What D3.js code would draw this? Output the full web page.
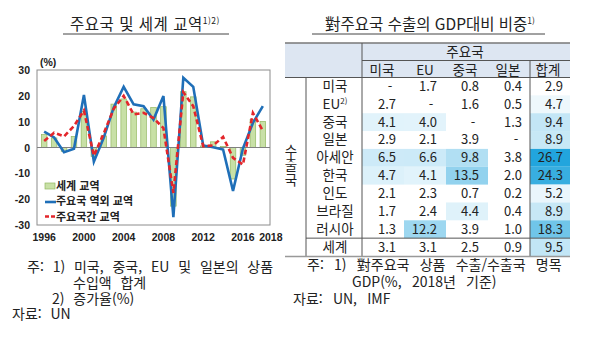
<!DOCTYPE html>
<html lang="ko">
  <head>
    <meta charset="UTF-8" />
    <script src="https://d3js.org/d3.v7.min.js"></script>
    <style>
      body { margin: 0; background: #fff; }
      text { font-family: "Noto Sans CJK KR", "Noto Sans", sans-serif; }
      .ax { font-family: "Liberation Sans", Arial, sans-serif; font-weight: bold; font-size: 10.5px; fill: #222; }
    </style>
  </head>
  <body>
    <div id="chart"></div>
    <script>
      // ---- left chart data ----
      var years = [1996, 1997, 1998, 1999, 2000, 2001, 2002, 2003, 2004, 2005, 2006, 2007,
        2008, 2009, 2010, 2011, 2012, 2013, 2014, 2015, 2016, 2017, 2018];
      var worldTrade = [5.0, 3.7, -1.5, 4.3, 14.0, -3.5, 4.5, 16.8, 18.8, 13.7, 15.0, 15.5,
        15.8, -22.7, 21.6, 19.6, 0.6, 2.2, 0.4, -12.2, -3.0, 10.8, 10.1];
      var extraTrade = [6.1, 3.9, -1.8, -0.5, 20.3, -5.5, 3.9, 15.5, 23.5, 16.7, 16.0, 10.8,
        19.9, -27.0, 27.0, 23.5, 0.8, 0.1, -0.8, -16.8, -0.3, 9.5, 16.0];
      var intraTrade = [2.5, 5.7, 4.3, 8.3, 14.3, -3.2, 5.5, 15.0, 20.0, 12.8, 13.4, 11.4,
        7.5, -17.6, 21.4, 16.0, 0.5, 0.8, 4.1, -4.0, -6.6, 13.4, 6.5];
      var yTicks = [30, 20, 10, 0, -10, -20, -30];
      var xTickYears = [1996, 2000, 2004, 2008, 2012, 2016, 2018];
      var legendLabels = ["세계 교역", "주요국 역외 교역", "주요국간 교역"];

      // ---- right table data ----
      var exporters = ["미국", "EU", "중국", "일본", "아세안", "한국", "인도", "브라질", "러시아", "세계"];
      var importers = ["미국", "EU", "중국", "일본", "합계"];
      var shares = [
        [null, 1.7, 0.8, 0.4, 2.9],
        [2.7, null, 1.6, 0.5, 4.7],
        [4.1, 4.0, null, 1.3, 9.4],
        [2.9, 2.1, 3.9, null, 8.9],
        [6.5, 6.6, 9.8, 3.8, 26.7],
        [4.7, 4.1, 13.5, 2.0, 24.3],
        [2.1, 2.3, 0.7, 0.2, 5.2],
        [1.7, 2.4, 4.4, 0.4, 8.9],
        [1.3, 12.2, 3.9, 1.0, 18.3],
        [3.1, 3.1, 2.5, 0.9, 9.5]
      ];

      var svg = d3.select("#chart").append("svg")
        .attr("width", 600).attr("height", 340);

      // ================= left chart =================
      var x = d3.scaleBand().domain(years).range([37, 270]).padding(0.44);
      var y = d3.scaleLinear().domain([-30, 30]).range([225, 70]);
      var xc = function (d) { return x(d) + x.bandwidth() / 2; };

      // title
      var t1 = svg.append("text").attr("x", 145).attr("y", 30)
        .attr("text-anchor", "middle").attr("font-size", 15.5).attr("fill", "#222")
        .attr("letter-spacing", "0.5px");
      t1.append("tspan").text("주요국  및  세계  교역");
      t1.append("tspan").attr("font-size", 8.5).attr("dy", -6).text("1)2)");
      svg.append("line").attr("x1", 63).attr("x2", 229).attr("y1", 34).attr("y2", 34)
        .attr("stroke", "#444").attr("stroke-width", 1);

      svg.append("rect").attr("x", 37).attr("y", 70).attr("width", 233).attr("height", 155)
        .attr("fill", "none").attr("stroke", "#8c8c8c").attr("stroke-width", 1);

      svg.append("text").attr("class", "ax").attr("x", 40).attr("y", 66).text("(%)");

      svg.append("g").selectAll("text").data(yTicks).enter().append("text")
        .attr("class", "ax").attr("x", 30).attr("y", function (d) { return y(d) + 4; })
        .attr("text-anchor", "end").text(function (d) { return d; });

      svg.append("g").selectAll("text").data(xTickYears).enter().append("text")
        .attr("class", "ax")
        .attr("x", function (d) { return xc(d) + (d === 2018 ? 8 : 0); })
        .attr("y", 241).attr("text-anchor", "middle").text(function (d) { return d; });

      // bars
      svg.append("g").selectAll("rect").data(worldTrade).enter().append("rect")
        .attr("x", function (d, i) { return x(years[i]); })
        .attr("y", function (d) { return y(Math.max(0, d)); })
        .attr("width", x.bandwidth())
        .attr("height", function (d) { return Math.abs(y(d) - y(0)); })
        .attr("fill", "#c8e0a6").attr("stroke", "#93b862").attr("stroke-width", 0.7);

      svg.append("line").attr("x1", 37).attr("x2", 270).attr("y1", y(0)).attr("y2", y(0))
        .attr("stroke", "#7f7f7f").attr("stroke-width", 1);

      var line = d3.line().x(function (d, i) { return xc(years[i]); }).y(function (d) { return y(d); });

      svg.append("path").datum(extraTrade).attr("d", line)
        .attr("fill", "none").attr("stroke", "#1f6fb8").attr("stroke-width", 2.6)
        .attr("stroke-linejoin", "miter");
      svg.append("path").datum(intraTrade).attr("d", line)
        .attr("fill", "none").attr("stroke", "#e3262b").attr("stroke-width", 2.6)
        .attr("stroke-dasharray", "5,3");

      // legend
      var lg = svg.append("g");
      lg.append("rect").attr("x", 45).attr("y", 183).attr("width", 10).attr("height", 6)
        .attr("fill", "#c8e0a6").attr("stroke", "#93b862").attr("stroke-width", 0.7);
      lg.append("line").attr("x1", 45).attr("x2", 56).attr("y1", 202).attr("y2", 202)
        .attr("stroke", "#1f6fb8").attr("stroke-width", 2.6);
      lg.append("line").attr("x1", 45).attr("x2", 56).attr("y1", 216.5).attr("y2", 216.5)
        .attr("stroke", "#e3262b").attr("stroke-width", 2.6).attr("stroke-dasharray", "4,2");
      lg.selectAll("text").data(legendLabels).enter().append("text")
        .attr("x", 56).attr("y", function (d, i) { return 190 + i * 15.3; })
        .attr("font-size", 11).attr("font-weight", "bold").attr("fill", "#222")
        .text(function (d) { return d; });

      // left notes
      var noteL = svg.append("g").attr("font-size", 14).attr("fill", "#222").attr("word-spacing", "0.5px");
      noteL.append("text").attr("x", 27).attr("y", 272).attr("xml:space", "preserve")
        .text("주:  1)  미국,  중국,  EU  및  일본의  상품");
      noteL.append("text").attr("x", 73).attr("y", 288).attr("xml:space", "preserve").text("수입액  합계");
      noteL.append("text").attr("x", 52).attr("y", 304).attr("xml:space", "preserve").text("2)  증가율(%)");
      noteL.append("text").attr("x", 12).attr("y", 319).attr("xml:space", "preserve").text("자료:  UN");

      // ================= right table =================
      var t2 = svg.append("text").attr("x", 430).attr("y", 30)
        .attr("text-anchor", "middle").attr("font-size", 15.5).attr("fill", "#222");
      t2.append("tspan").text("對주요국  수출의  GDP대비  비중");
      t2.append("tspan").attr("font-size", 8.5).attr("dy", -6).text("1)");
      svg.append("line").attr("x1", 312).attr("x2", 545).attr("y1", 34).attr("y2", 34)
        .attr("stroke", "#444").attr("stroke-width", 1);

      var colRight = d3.scaleOrdinal().domain(importers).range([396, 437, 479, 522, 563]);
      var colCenter = d3.scaleOrdinal().domain(importers).range([382, 425, 465, 508, 548]);
      var colEdge = d3.scaleOrdinal().domain(importers).range([362, 404, 446, 488, 530]);
      var row = d3.scaleBand().domain(exporters).range([77.5, 256]);

      // header band
      svg.append("rect").attr("x", 285).attr("y", 43).attr("width", 285).attr("height", 34.5)
        .attr("fill", "#dde6f2");

      // heat cells
      var totalColor = d3.scaleLinear().domain([2.9, 26.7]).range(["#ffffff", "#22a5dd"]);
      var innerColor = d3.scaleLinear().domain([4, 26.7]).range(["#e2f3fb", "#22a5dd"]);
      var cells = [];
      shares.forEach(function (r, i) {
        r.forEach(function (v, j) { cells.push({ ex: exporters[i], im: importers[j], v: v }); });
      });
      svg.append("g").selectAll("rect").data(cells).enter().append("rect")
        .attr("x", function (d) { return colEdge(d.im); })
        .attr("y", function (d) { return row(d.ex); })
        .attr("width", function (d) { return d.im === "합계" ? 40 : 42; })
        .attr("height", row.bandwidth())
        .attr("fill", function (d) {
          if (d.v === null) return "none";
          if (d.im === "합계") return totalColor(d.v);
          return d.v < 4 ? "none" : innerColor(d.v);
        });

      // lines
      var gl = svg.append("g").attr("stroke", "#555").attr("stroke-width", 1);
      gl.append("line").attr("x1", 285).attr("x2", 570).attr("y1", 43).attr("y2", 43).attr("stroke", "#777").attr("stroke-width", 1.5);
      gl.append("line").attr("x1", 362).attr("x2", 570).attr("y1", 60.5).attr("y2", 60.5);
      gl.append("line").attr("x1", 285).attr("x2", 570).attr("y1", 77.5).attr("y2", 77.5);
      gl.append("line").attr("x1", 362).attr("x2", 362).attr("y1", 43).attr("y2", 256);
      gl.append("line").attr("x1", 530).attr("x2", 530).attr("y1", 60.5).attr("y2", 256);
      gl.append("line").attr("x1", 306).attr("x2", 306).attr("y1", 77.5).attr("y2", 256);
      gl.append("line").attr("x1", 306).attr("x2", 570).attr("y1", row("세계")).attr("y2", row("세계"));
      gl.append("line").attr("x1", 285).attr("x2", 570).attr("y1", 256.5).attr("y2", 256.5)
        .attr("stroke", "#999").attr("stroke-width", 1.5);

      var tb = svg.append("g").attr("font-size", 13.5).attr("fill", "#222");
      tb.append("text").attr("x", 465).attr("y", 56.5).attr("text-anchor", "middle").text("주요국");
      tb.selectAll(".hd").data(importers).enter().append("text")
        .attr("x", function (d) { return colCenter(d); }).attr("y", 74.5)
        .attr("text-anchor", "middle").text(function (d) { return d; });

      tb.selectAll(".rl").data(exporters).enter().append("text")
        .attr("x", 335).attr("y", function (d) { return row(d) + row.bandwidth() / 2 + 4.5; })
        .attr("text-anchor", "middle")
        .each(function (d) {
          var s = d3.select(this);
          if (d === "EU") {
            s.append("tspan").text("EU");
            s.append("tspan").attr("font-size", 8).attr("dy", -5).text("2)");
          } else {
            s.text(d);
          }
        });

      // vertical row-group label
      tb.append("text").attr("x", 291).attr("y", 144)
        .attr("font-size", 13.5)
        .style("writing-mode", "vertical-rl")
        .style("text-orientation", "upright")
        .attr("letter-spacing", "1px")
        .text("수출국");

      tb.selectAll(".num").data(cells).enter().append("text")
        .attr("x", function (d) { return d.v === null ? colRight(d.im) - 6 : colRight(d.im); })
        .attr("y", function (d) { return row(d.ex) + row.bandwidth() / 2 + 4.5; })
        .attr("text-anchor", function (d) { return d.v === null ? "middle" : "end"; })
        .attr("font-size", 13)
        .text(function (d) { return d.v === null ? "-" : d.v.toFixed(1); });

      // right notes
      var noteR = svg.append("g").attr("font-size", 14).attr("fill", "#222").attr("word-spacing", "1.2px");
      noteR.append("text").attr("x", 307).attr("y", 270).attr("xml:space", "preserve")
        .text("주:  1)  對주요국  상품  수출/수출국  명목");
      noteR.append("text").attr("x", 352).attr("y", 287).attr("xml:space", "preserve")
        .text("GDP(%,  2018년  기준)");
      noteR.append("text").attr("x", 293).attr("y", 304).attr("xml:space", "preserve")
        .text("자료:  UN,  IMF");
    </script>
  </body>
</html>
